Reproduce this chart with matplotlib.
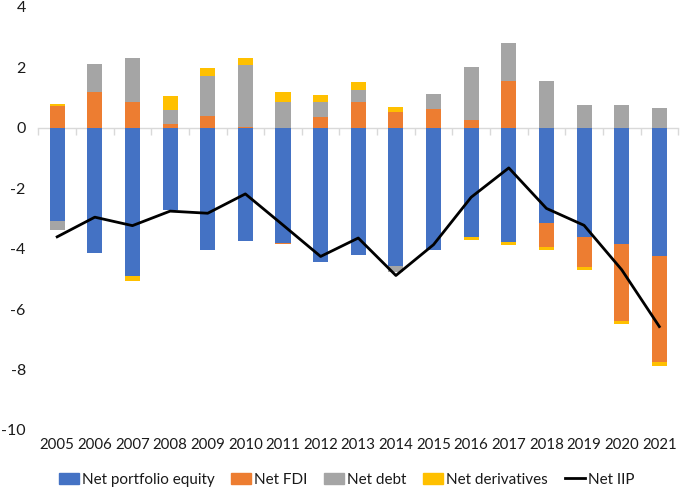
import matplotlib
matplotlib.use("Agg")
import matplotlib.pyplot as plt
import numpy as np
from matplotlib.patches import Patch
from matplotlib.lines import Line2D

plt.rcParams['font.family'] = ['Lato', 'DejaVu Sans']
plt.rcParams['axes.unicode_minus'] = False

years = [str(y) for y in range(2005, 2022)]
equity = [-3.09, -4.15, -4.92, -2.73, -4.05, -3.74, -3.81, -4.44, -4.20, -4.59, -4.03, -3.61, -3.79, -3.15, -3.61, -3.86, -4.26]
fdi    = [0.71, 1.18, 0.86, 0.11, 0.40, 0.03, -0.04, 0.37, 0.86, 0.52, 0.63, 0.24, 1.55, -0.81, -1.01, -2.55, -3.48]
debt   = [-0.29, 0.92, 1.46, 0.48, 1.30, 2.06, 0.86, 0.49, 0.39, -0.19, 0.48, 1.76, 1.24, 1.53, 0.75, 0.75, 0.66]
deriv  = [0.08, 0.02, -0.15, 0.45, 0.28, 0.22, 0.32, 0.22, 0.27, 0.18, -0.03, -0.09, -0.08, -0.09, -0.09, -0.09, -0.14]
iip    = [-3.61, -2.96, -3.24, -2.76, -2.83, -2.19, -3.22, -4.26, -3.65, -4.89, -3.87, -2.30, -1.33, -2.67, -3.23, -4.70, -6.58]

series = [("Net portfolio equity", equity, "#4472C4"),
          ("Net FDI", fdi, "#ED7D31"),
          ("Net debt", debt, "#A5A5A5"),
          ("Net derivatives", deriv, "#FFC000")]

fig = plt.figure(figsize=(6.85, 4.88), dpi=100)
ax = fig.add_axes([0.056, 0.119, 0.934, 0.867])

x = np.arange(len(years))
pos_base = np.zeros(len(years))
neg_base = np.zeros(len(years))
for name, vals, col in series:
    v = np.array(vals)
    bottom = np.where(v >= 0, pos_base, neg_base)
    ax.bar(x, v, width=0.4, bottom=bottom, color=col, edgecolor='none', zorder=2)
    pos_base = pos_base + np.where(v >= 0, v, 0)
    neg_base = neg_base + np.where(v < 0, v, 0)

ax.plot(x, iip, color='black', lw=2.0, zorder=3)

ax.set_xlim(-0.5, len(years) - 0.5)
ax.set_ylim(-10, 4)
ax.set_yticks(np.arange(-10, 5, 2))
ax.tick_params(axis='y', length=0, pad=9, labelsize=11.5, labelcolor='#1a1a1a')

for s in ['top', 'right', 'left']:
    ax.spines[s].set_visible(False)
ax.spines['bottom'].set_position(('data', 0))
ax.spines['bottom'].set_color('#D9D9D9')
ax.spines['bottom'].set_linewidth(1.0)
ax.spines['bottom'].set_zorder(1)
ax.set_xticks(np.arange(-0.5, len(years), 1.0))
ax.set_xticklabels([])
ax.tick_params(axis='x', length=5, color='#D9D9D9', width=1.0)

sec = ax.secondary_xaxis(0)
sec.set_xticks(x)
sec.set_xticklabels(years)
sec.tick_params(length=0, pad=6, labelsize=10.8, labelcolor='#1a1a1a')
sec.spines['bottom'].set_visible(False)

handles = [Patch(color=c) for _, _, c in series] + [Line2D([0], [0], color='black', lw=2)]
labels = [n for n, _, _ in series] + ["Net IIP"]
fig.legend(handles, labels, loc='center', bbox_to_anchor=(0.506, 0.017), ncol=5,
           frameon=False, fontsize=11, handlelength=1.3, handleheight=0.8,
           handletextpad=0.2, columnspacing=1.1, labelcolor='#1a1a1a')

fig.savefig("out.png", dpi=100)
